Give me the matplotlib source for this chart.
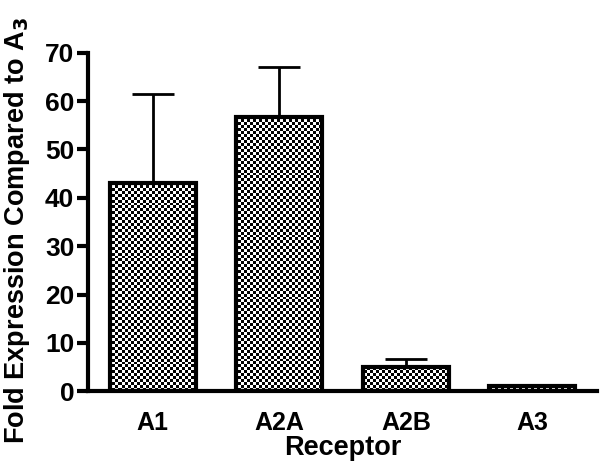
import numpy as np
import matplotlib.pyplot as plt

plt.rcParams['font.family'] = ['Liberation Sans', 'DejaVu Sans']
plt.rcParams['font.weight'] = 'bold'

receptors = ['A1', 'A2A', 'A2B', 'A3']
fold_expr = [43.0, 56.7, 5.0, 1.0]
sem_upper = [18.5, 10.4, 1.6, 0.2]

fig = plt.figure(figsize=(6, 4.63), dpi=100)
ax = fig.add_axes([0.147, 0.155, 0.848, 0.731])

x = np.arange(len(receptors))
bars = ax.bar(x, fold_expr, width=0.68, facecolor='none', edgecolor='black',
              linewidth=3, zorder=3)
ax.errorbar(x, fold_expr, yerr=[np.zeros(len(x)), sem_upper], fmt='none',
            ecolor='black', elinewidth=2, capsize=15, capthick=2, zorder=2)

# checkerboard fill clipped to each bar
ny, nx = 115, 170
yy, xx = np.mgrid[0:ny, 0:nx]
checker = ((xx + yy) % 2).astype(float)
for b in bars:
    im = ax.imshow(checker, cmap='gray', vmin=0, vmax=1, interpolation='nearest',
                   extent=[-0.51, 3.51, 0, 70], aspect='auto', zorder=2.5)
    im.set_clip_path(b)

ax.set_xlim(-0.51, 3.51)
ax.set_ylim(0, 70)

ax.set_xticks(x)
ax.set_xticklabels(receptors, fontsize=18, fontweight='bold')
ax.set_yticks(range(0, 71, 10))
ax.tick_params(axis='y', labelsize=19, width=3, length=8, pad=2)
ax.tick_params(axis='x', length=0, pad=14)
for lab in ax.get_yticklabels():
    lab.set_fontweight('bold')

for s in ['top', 'right']:
    ax.spines[s].set_visible(False)
for s in ['left', 'bottom']:
    ax.spines[s].set_linewidth(3)

ax.set_xlabel('Receptor', fontsize=19.5, fontweight='bold', labelpad=0)
ax.set_ylabel('Fold Expression Compared to A$_\\mathbf{3}$', fontsize=19.5,
              fontweight='bold')
ax.yaxis.set_label_coords(-0.11, 0.475)

fig.savefig('out.png', dpi=100)
